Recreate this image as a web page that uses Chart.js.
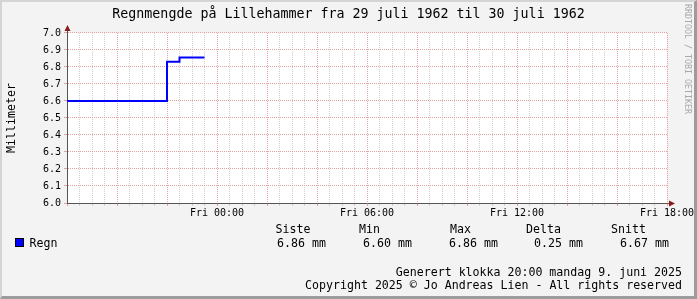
<!DOCTYPE html>
<html>
<head>
<meta charset="utf-8">
<script src="https://cdn.jsdelivr.net/npm/chart.js@4.4.1/dist/chart.umd.min.js"></script>
<style>
  html, body { margin: 0; padding: 0; background: #f3f3f3; overflow: hidden; }
  #wrap { position: relative; width: 697px; height: 299px; font-family: "DejaVu Sans Mono", monospace; color: #000; }
  #c { position: absolute; left: 0; top: 0; }
  .t { position: absolute; white-space: pre; font-size: 11.6px; line-height: 14px; }
  #frame { position: absolute; left: 0; top: 0; width: 697px; height: 299px; box-sizing: border-box;
           border-left: 2px solid #d4d4d4; border-top: 2px solid #d4d4d4;
           border-right: 3px solid #9c9c9c; border-bottom: 3px solid #9c9c9c; pointer-events: none; }
  #rrd { position: absolute; left: 683px; top: 4px; writing-mode: vertical-rl; font-size: 8.3px; color: #a8a8a8; white-space: pre; line-height: 10px; }
  #sq { position: absolute; left: 15px; top: 238px; width: 7px; height: 7px; background: #0000ff; border: 1px solid #000; }
</style>
</head>
<body>
<div id="wrap">
  <canvas id="c" width="697" height="299"></canvas>
  <div id="sq"></div>
  <div class="t" style="left:29.5px;top:236.4px">Regn</div>
  <div class="t" style="left:275.5px;top:222.4px">Siste</div>
  <div class="t" style="left:277px;top:236.4px">6.86 mm</div>
  <div class="t" style="left:359px;top:222.4px">Min</div>
  <div class="t" style="left:363px;top:236.4px">6.60 mm</div>
  <div class="t" style="left:450px;top:222.4px">Max</div>
  <div class="t" style="left:449px;top:236.4px">6.86 mm</div>
  <div class="t" style="left:526px;top:222.4px">Delta</div>
  <div class="t" style="left:534px;top:236.4px">0.25 mm</div>
  <div class="t" style="left:611px;top:222.4px">Snitt</div>
  <div class="t" style="left:620px;top:236.4px">6.67 mm</div>
  <div class="t" style="right:15px;top:264.7px;text-align:right">Generert klokka 20:00 mandag 9. juni 2025</div>
  <div class="t" style="right:15px;top:278.4px;text-align:right">Copyright 2025 © Jo Andreas Lien - All rights reserved</div>
  <div id="rrd">RRDTOOL / TOBI OETIKER</div>
  <div id="frame"></div>
</div>
<script>
// Hours since Thu 18:00 (29 juli 1962) and rain amount (mm)
const hours = [0, 4, 4.5, 5.5];
const regn = [6.60, 6.83, 6.855, 6.855];
const xTickLabels = { 6: 'Fri 00:00', 12: 'Fri 06:00', 18: 'Fri 12:00', 24: 'Fri 18:00' };
const yMin = 6.0, yMax = 7.0, yStep = 0.1;
const titleText = 'Regnmengde på Lillehammer fra 29 juli 1962 til 30 juli 1962';
const yTitle = 'Millimeter';

const MONO = "'DejaVu Sans Mono', monospace";
const RED = '#e3a3a3';
const GREY = '#cfcfcf';

const decor = {
  id: 'decor',
  beforeDraw(chart) {
    const { ctx, chartArea: a } = chart;
    ctx.save();
    ctx.fillStyle = '#ffffff';
    ctx.fillRect(a.left, a.top, a.right - a.left, a.bottom - a.top);
    ctx.restore();
  },
  afterDraw(chart) {
    const { ctx, chartArea: a } = chart;
    const x0 = Math.round(a.left) + 0.5;
    const y0 = Math.round(a.bottom) + 0.5;
    ctx.save();
    ctx.strokeStyle = '#555555';
    ctx.lineWidth = 1;
    ctx.beginPath();
    ctx.moveTo(x0, a.top); ctx.lineTo(x0, a.top - 4);
    ctx.moveTo(a.right, y0); ctx.lineTo(a.right + 4, y0);
    ctx.stroke();
    ctx.fillStyle = '#8b1a1a';
    ctx.beginPath();
    ctx.moveTo(x0, a.top - 8); ctx.lineTo(x0 - 3, a.top - 2); ctx.lineTo(x0 + 3, a.top - 2); ctx.closePath();
    ctx.fill();
    ctx.beginPath();
    ctx.moveTo(a.right + 8, y0); ctx.lineTo(a.right + 2, y0 - 3); ctx.lineTo(a.right + 2, y0 + 3); ctx.closePath();
    ctx.fill();
    ctx.restore();
  }
};

new Chart(document.getElementById('c'), {
  type: 'line',
  data: {
    datasets: [{
      label: 'Regn',
      data: hours.map((h, i) => ({ x: h, y: regn[i] })),
      borderColor: '#0000ff',
      backgroundColor: '#0000ff',
      borderWidth: 2,
      pointRadius: 0,
      stepped: 'before',
      fill: false
    }]
  },
  options: {
    responsive: false,
    animation: false,
    devicePixelRatio: 1,
    layout: { padding: { left: 0, right: 0, top: 0, bottom: 76 } },
    plugins: {
      legend: { display: false },
      tooltip: { enabled: false },
      title: {
        display: true,
        text: titleText,
        color: '#000',
        font: { family: MONO, size: 13.3, weight: 'normal' },
        padding: { top: 7, bottom: 10 }
      }
    },
    scales: {
      x: {
        type: 'linear',
        min: 0, max: 24,
        afterFit(s) { s.height = 20; },
        ticks: {
          stepSize: 0.5,
          autoSkip: false,
          maxRotation: 0,
          padding: 1,
          color: '#000',
          font: { family: MONO, size: 10 },
          callback: (v) => xTickLabels[v] || ''
        },
        grid: {
          color: (c) => (c.tick && Math.abs(c.tick.value % 2) < 1e-6) ? RED : GREY,
          tickLength: 3,
          lineWidth: 1
        },
        border: { color: '#555555', width: 1, dash: [1, 1] }
      },
      y: {
        min: yMin, max: yMax,
        afterFit(s) { s.width = 67; },
        ticks: {
          stepSize: yStep,
          padding: 3,
          color: '#000',
          font: { family: MONO, size: 10 },
          callback: (v) => Number(v).toFixed(1)
        },
        grid: { color: RED, tickLength: 3, lineWidth: 1 },
        border: { color: '#555555', width: 1, dash: [1, 1] },
        title: {
          display: true,
          text: yTitle,
          color: '#000',
          font: { family: MONO, size: 11.6 },
          padding: { top: 5, bottom: 0 }
        }
      },
      yRight: {
        position: 'right',
        min: yMin, max: yMax,
        afterFit(s) { s.width = 30; },
        ticks: { display: false },
        grid: { display: false, drawTicks: false },
        border: { display: false }
      }
    }
  },
  plugins: [decor]
});
</script>
</body>
</html>
